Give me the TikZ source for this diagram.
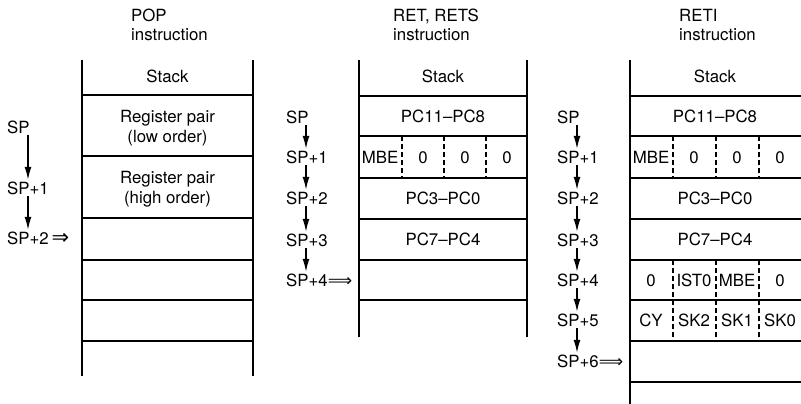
\documentclass[tikz,border=0pt]{standalone}
\usepackage{fontspec}
\setmainfont{TeX Gyre Heros}
\newfontfamily\arrfont{DejaVu Sans}
\usetikzlibrary{arrows.meta}
\newcommand{\dArr}{{\arrfont\fontsize{21}{20}\selectfont ⇒}}
\newcommand{\dLongArr}{{\arrfont\fontsize{17}{20}\selectfont ⟹}}
\begin{document}
\begin{tikzpicture}[x=1pt,y=-1pt,
  frame/.style={line width=1.5pt},
  sep/.style={line width=1.4pt},
  dsep/.style={line width=1.4pt,dash pattern=on 5pt off 3pt},
  txt/.style={font=\fontsize{16.8}{20}\selectfont,inner sep=2pt,text height=12pt,text depth=0pt},
  cell/.style={txt,anchor=center},
  lbl/.style={txt,anchor=west},
  ttl/.style={font=\fontsize{16.8}{20}\selectfont,inner sep=0pt,anchor=base west},
  two/.style={font=\fontsize{16.8}{20.5}\selectfont,inner sep=0pt,align=center,anchor=center},
  arr/.style={line width=1.4pt,-{Latex[length=13pt,width=7pt]}}
]
\useasboundingbox (0,0) rectangle (801,404);

% ---------- Panel 1: POP ----------
\node[ttl] (t1a) at (131,22) {POP};
\node[ttl] (t1b) at (131,41) {instruction};
\draw[frame] (82,60) -- (82,376);
\draw[frame] (253,60) -- (253,376);
\foreach \y in {95,156,218,260,300,341} \draw[sep] (82,\y) -- (253,\y);
\node[cell] (p1s) at (167.5,77) {Stack};
\node[two] (p1r1) at (167.5,128) {Register pair\\(low order)};
\node[two] (p1r2) at (167.5,189) {Register pair\\(high order)};
\node[lbl] (a0) at (5,127) {SP};
\node[lbl] (a1) at (5,188) {SP+1};
\node[lbl] (a2) at (5,238) {SP+2\,\dArr};
\draw[arr] ([xshift=23pt]a0.south west) -- ([xshift=23pt]a1.north west);
\draw[arr] ([xshift=23pt]a1.south west) -- ([xshift=23pt]a2.north west);

% ---------- Panel 2: RET, RETS ----------
\node[ttl] (t2a) at (393,22) {RET, RETS};
\node[ttl] (t2b) at (393,41) {instruction};
\draw[frame] (359,60) -- (359,337);
\draw[frame] (527,60) -- (527,337);
\foreach \y in {96,136,178,219,260,300} \draw[sep] (359,\y) -- (527,\y);
\foreach \x in {402,444,486} \draw[dsep] (\x,136) -- (\x,178);
\node[cell] (q0) at (443,77) {Stack};
\node[cell] (q1) at (443,116) {PC11--PC8};
\node[cell] (q2a) at (380,157) {MBE};
\node[cell] (q2b) at (423,157) {0};
\node[cell] (q2c) at (465,157) {0};
\node[cell] (q2d) at (507,157) {0};
\node[cell] (q3) at (443,198) {PC3--PC0};
\node[cell] (q4) at (443,239) {PC7--PC4};
\node[lbl] (b0) at (284,117) {SP};
\node[lbl] (b1) at (284,157) {SP+1};
\node[lbl] (b2) at (284,198) {SP+2};
\node[lbl] (b3) at (284,240) {SP+3};
\node[lbl] (b4) at (284,280) {SP+4\dLongArr};
\foreach \i [evaluate=\i as \j using int(\i+1)] in {0,1,2,3}
  \draw[arr] ([xshift=22pt]b\i.south west) -- ([xshift=22pt]b\j.north west);

% ---------- Panel 3: RETI ----------
\node[ttl] (t3a) at (679,22) {RETI};
\node[ttl] (t3b) at (679,41) {instruction};
\draw[frame] (630,60) -- (630,404);
\foreach \y in {96,136,178,219,260,300,341,382} \draw[sep] (630,\y) -- (801,\y);
\foreach \x in {673,716,759} {
  \draw[dsep] (\x,136) -- (\x,178);
  \draw[dsep] (\x,260) -- (\x,341);
}
\node[cell] (r0) at (715,77) {Stack};
\node[cell] (r1) at (715,116) {PC11--PC8};
\node[cell] (r2a) at (651,157) {MBE};
\node[cell] (r2b) at (694,157) {0};
\node[cell] (r2c) at (737,157) {0};
\node[cell] (r2d) at (780,157) {0};
\node[cell] (r3) at (715,198) {PC3--PC0};
\node[cell] (r4) at (715,239) {PC7--PC4};
\node[cell] (r5a) at (651,280) {0};
\node[cell] (r5b) at (694,280) {IST0};
\node[cell] (r5c) at (737,280) {MBE};
\node[cell] (r5d) at (780,280) {0};
\node[cell] (r6a) at (651,320) {CY};
\node[cell] (r6b) at (694,320) {SK2};
\node[cell] (r6c) at (737,320) {SK1};
\node[cell] (r6d) at (780,320) {SK0};
\node[lbl] (c0) at (555,117) {SP};
\node[lbl] (c1) at (555,157) {SP+1};
\node[lbl] (c2) at (555,198) {SP+2};
\node[lbl] (c3) at (555,240) {SP+3};
\node[lbl] (c4) at (555,280) {SP+4};
\node[lbl] (c5) at (555,320) {SP+5};
\node[lbl] (c6) at (555,361) {SP+6\dLongArr};
\foreach \i [evaluate=\i as \j using int(\i+1)] in {0,1,2,3,4,5}
  \draw[arr] ([xshift=22pt]c\i.south west) -- ([xshift=22pt]c\j.north west);
\end{tikzpicture}
\end{document}
